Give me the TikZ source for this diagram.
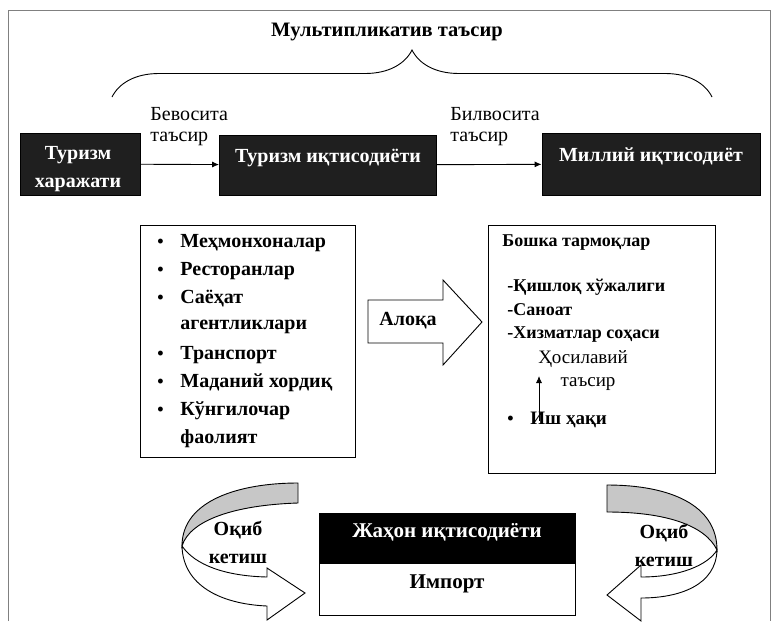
\documentclass[tikz,border=0pt]{standalone}
\usepackage{fontspec}
\setmainfont{Liberation Serif}
\usetikzlibrary{arrows.meta,decorations.pathreplacing}

\begin{document}
\begin{tikzpicture}[x=1pt, y=-1pt, line width=0.9pt,
    darkbox/.style={draw, fill=black!88, text=white, align=center,
        font=\fontsize{20}{28}\selectfont\bfseries},
    item/.style={anchor=west, inner sep=0pt, font=\fontsize{18}{22}\selectfont\bfseries},
    note/.style={anchor=west, align=left, inner sep=0pt, font=\fontsize{20}{21}\selectfont},
    arr/.style={-{Latex[length=7pt,width=6pt]}},
    ribbon/.style={draw, fill=black!22},
    flow/.style={font=\fontsize{20}{28}\selectfont\bfseries, align=center, inner sep=0pt}]
    \useasboundingbox (0,0) rectangle (775,621);
    \draw[gray, line width=0.6pt] (8,621) |- (770,10) -- (770,621);

    % top row
    \node[font=\fontsize{20.5}{24}\selectfont\bfseries] (mult) at (387,32) {Мультипликатив таъсир};
    \draw[decorate, decoration={brace, amplitude=47pt}] (112,97) -- (712,97);
    \node[darkbox, minimum width=120pt, minimum height=62pt] (spend) at (80,164) {};
    \node[darkbox, draw=none, fill=none, inner sep=0pt] (spendt) at (78,169) {Туризм\\харажати};
    \node[darkbox, minimum width=217pt, minimum height=60pt, text height=13pt, text depth=18pt] (tecon) at (328,165) {Туризм иқтисодиёти};
    \node[darkbox, minimum width=218pt, minimum height=62pt, text height=13pt, text depth=18pt] (necon) at (651,164) {Миллий иқтисодиёт};
    \draw[arr] (spend) -- (tecon);
    \draw[arr] (tecon) -- (necon);
    \node[note] (direct) at (150,127) {Бевосита\\таъсир};
    \node[note] (indirect) at (450,127) {Билвосита\\таъсир};

    % tourism sector
    \node[draw, minimum width=215pt, minimum height=232pt] (sector) at (247.5,341) {};
    \foreach \b/\t [count=\i] in {•/Меҳмонхоналар, •/Ресторанлар, •/Саёҳат, {}/агентликлари,
        •/Транспорт, •/Маданий хордиқ, •/Кўнгилочар, {}/фаолият} {
        \node[item] (b\i) at (157,215+28*\i) {\b};
        \node[item, font=\fontsize{20}{22}\selectfont\bfseries] (s\i) at (180,215+28*\i) {\t};
    }

    % link arrow
    \draw[fill=white] (368,300) -- (443,300) -- (443,280) -- (482,322) -- (443,365) -- (443,343) -- (368,343) -- cycle;
    \node[font=\fontsize{20}{22}\selectfont\bfseries] (link) at (408,321) {Алоқа};

    % other branches
    \node[draw, minimum width=227pt, minimum height=248pt] (other) at (601.5,349) {};
    \node[item] (oth) at (502,243) {Бошка тармоқлар};
    \node[item] (agri) at (507,287) {-Қишлоқ хўжалиги};
    \node[item] (ind) at (507,310) {-Саноат};
    \node[item] (serv) at (507,335) {-Хизматлар соҳаси};
    \node[note, anchor=center, align=center, font=\fontsize{19}{23}\selectfont] (deriv) at (583,371) {Ҳосилавий\\\hspace*{10pt}таъсир};
    \node[item] (bw) at (507,420) {•};
    \node[item, font=\fontsize{19}{22}\selectfont\bfseries] (wage) at (530,420) {Иш ҳақи};
    \coordinate (wg) at (539,421);
    \coordinate (dv) at (539,376);
    \draw[arr, line width=0.8pt] (wg) -- (dv);

    % world economy
    \node[draw, fill=black, text=white, minimum width=256pt, minimum height=50pt, text height=12pt, text depth=13pt,
        font=\fontsize{21}{22}\selectfont\bfseries] (world) at (447,538) {Жаҳон иқтисодиёти};
    \node[draw, minimum width=256pt, minimum height=52pt, text height=12pt, text depth=13pt,
        font=\fontsize{21}{22}\selectfont\bfseries] (import) at (447,589) {Импорт};

    % outflow arrows
    \draw[ribbon] (298,483) .. controls (240,483) and (182,500) .. (182,546)
        .. controls (190,520) and (235,505) .. (298,503) -- cycle;
    \draw[fill=white] (182,546) .. controls (183,585) and (220,604) .. (267,606) -- (267,620) -- (305,593)
        -- (267,568) -- (267,577) .. controls (225,576) and (195,565) .. (182,546) -- cycle;
    \draw[ribbon] (607,485) .. controls (670,485) and (717,505) .. (717,550)
        .. controls (705,525) and (665,512) .. (607,512) -- cycle;
    \draw[fill=white] (717,550) .. controls (716,585) and (680,598) .. (641,598) -- (641,621) -- (607,595)
        -- (641,565) -- (641,577) .. controls (680,577) and (708,565) .. (717,550) -- cycle;
    \node[flow] (outl) at (238,542) {Оқиб\\кетиш};
    \node[flow] (outr) at (664,545) {Оқиб\\кетиш};
\end{tikzpicture}
\end{document}
